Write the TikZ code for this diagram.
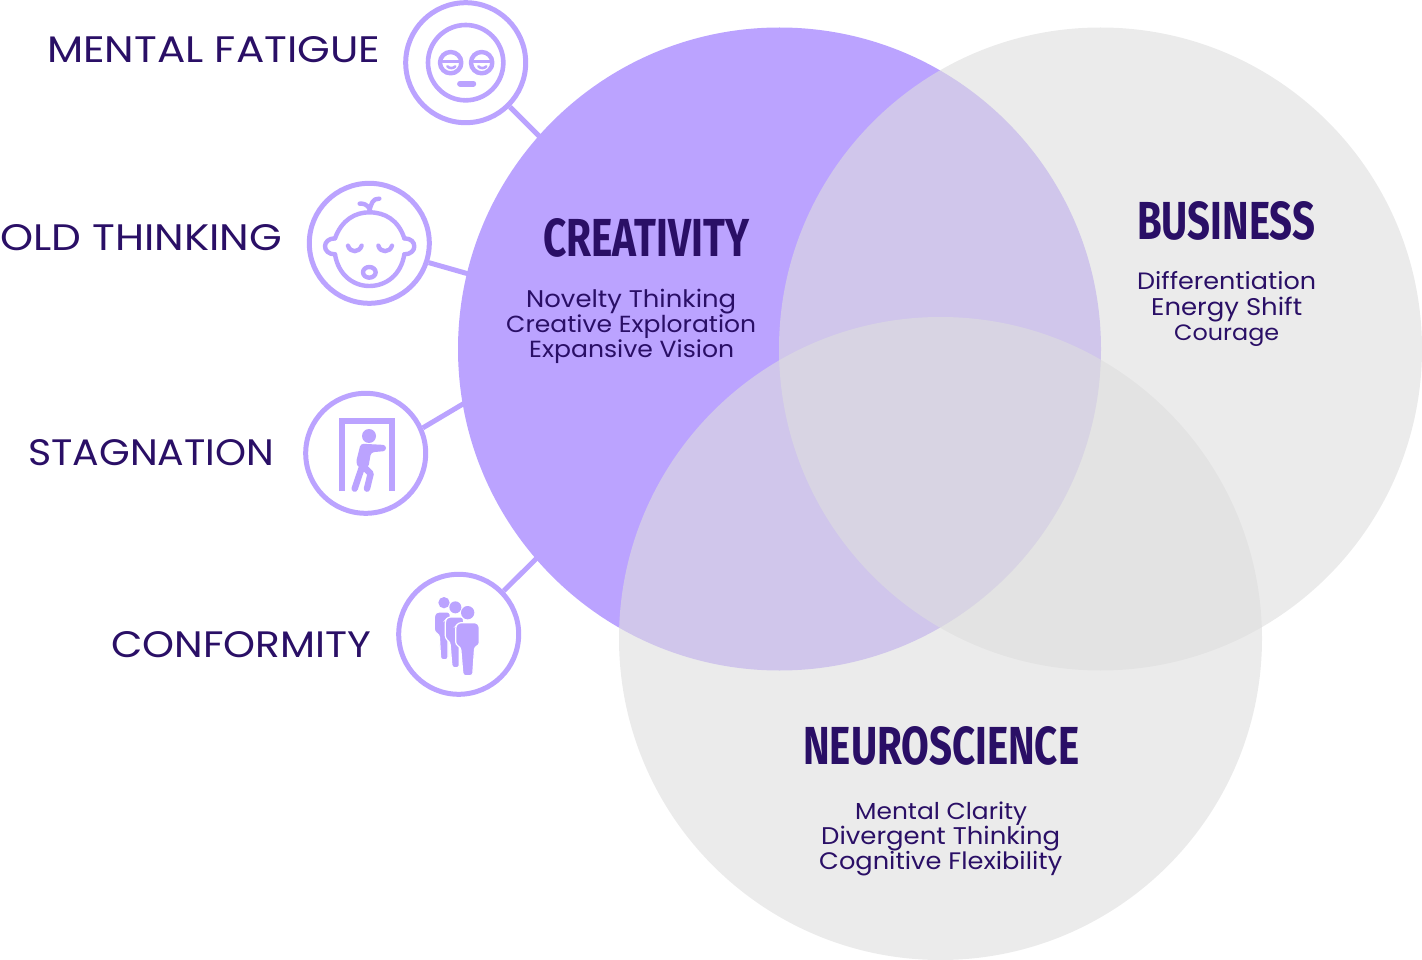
\documentclass[tikz,border=0pt]{standalone}
\usepackage{fontspec}
\setmainfont{Poppins}
\newfontfamily\headfont{Fira Sans}[BoldFont={Fira Sans Bold}]
\definecolor{lav}{HTML}{BBA3FF}
\definecolor{ink}{HTML}{2A0F66}
\definecolor{gr}{HTML}{DEDEDE}
\newcommand{\fitw}[2]{\scalebox{1}[0.93]{\resizebox{#1pt}{!}{#2}}}
\newcommand{\fitwh}[3]{\resizebox{#1pt}{#2pt}{#3}}
\tikzset{
  big/.style={circle,inner sep=0pt,minimum size=643pt,draw=none},
  venngray/.style={big,fill=gr,fill opacity=0.6},
  iconring/.style={circle,draw=lav,line width=5pt,inner sep=0pt,minimum size=120pt,fill=white},
  conn/.style={draw=lav,line width=5pt},
  lbl/.style={text=ink,inner sep=0pt,anchor=base west,font=\fontsize{36}{36}\selectfont},
  bodytxt/.style={text=ink,inner sep=0pt,anchor=base west,font=\fontsize{24}{24}\selectfont},
  head/.style={text=ink,inner sep=0pt,anchor=base west,font=\headfont\bfseries\fontsize{40}{40}\selectfont},
  ico/.style={draw=lav,line width=4.4pt,line cap=round,line join=round,fill=none},
  man/.style={fill=lav,draw=white,line width=1.2pt,rounded corners=2.5pt},
}
\begin{document}
\begin{tikzpicture}[x=1pt,y=-1pt]
\useasboundingbox (0,0) rectangle (1422,960);
% venn
\node[big,fill=lav] (creat) at (779.5,349) {};
\node[venngray] (bus) at (1100.5,349) {};
\node[venngray] (neuro) at (940.5,638.5) {};
% rings
\node[iconring] (i1) at (465.7,62.7) {};
\node[iconring] (i2) at (369.3,243.3) {};
\node[iconring] (i3) at (365.7,453.3) {};
\node[iconring] (i4) at (458.7,634.3) {};
\coordinate (c1) at (544,141);
\coordinate (c2) at (474,275.5);
\coordinate (c3) at (468,401);
\coordinate (c4) at (541,554);
\draw[conn] (i1.-45) -- (c1);
\draw[conn] (i2.-18) -- (c2);
\draw[conn] (i3.24) -- (c3);
\draw[conn] (i4.44) -- (c4);
% icon 1
\begin{scope}[shift={(400,0)},scale=1/3]
  \draw[ico,line width=4.6pt] (197,188) circle (113);
  \draw[ico] (152,188) circle (32);
  \draw[ico] (245,188) circle (32);
  \draw[ico,line width=3.2pt] (128,184) -- (176,184);
  \draw[ico,line width=3.2pt] (221,184) -- (269,184);
  \draw[ico,line width=2.6pt] (142,199) .. controls (148,206) and (160,206) .. (166,199);
  \draw[ico,line width=2.6pt] (235,199) .. controls (241,206) and (253,206) .. (259,199);
  \draw[ico,line width=5.8pt] (180,251) -- (220,251);
\end{scope}
% icon 2
\begin{scope}[shift={(300,175)},scale=1/3]
  \draw[ico] (105,190) .. controls (125,135) and (165,112) .. (208,112) .. controls (255,112) and (295,135) .. (313,190);
  \draw[ico] (105,238) .. controls (115,300) and (160,333) .. (208,333) .. controls (258,333) and (303,300) .. (313,238);
  \draw[ico] (105,190) .. controls (65,190) and (65,238) .. (105,238);
  \draw[ico] (313,190) .. controls (353,190) and (353,238) .. (313,238);
  \draw[ico] (144,212) .. controls (150,234) and (178,234) .. (185,212);
  \draw[ico] (235,212) .. controls (241,234) and (269,234) .. (276,212);
  \draw[ico] (208,292) ellipse (19 and 16);
  \draw[ico] (208,108) .. controls (214,85) and (218,70) .. (238,71);
  \draw[ico] (208,100) .. controls (200,88) and (190,85) .. (179,86);
\end{scope}
% icon 3
\begin{scope}[shift={(295,385)},scale=1/3]
  \draw[draw=lav,line width=6pt,line join=miter] (141,318) -- (141,107) -- (290,107) -- (290,318);
  \fill[lav] (222,153) circle (21);
  \fill[lav,rounded corners=3pt] (197,176) -- (273,180) -- (273,198) -- (228,202) -- (220,248) -- (190,248) -- (183,232) -- cycle;
  \draw[draw=lav,line width=6.4pt,line cap=round,line join=round] (203,240) -- (179,311);
  \draw[draw=lav,line width=6.4pt,line cap=round,line join=round] (203,242) -- (227,266) -- (216,311);
\end{scope}
% icon 4
\begin{scope}[shift={(390,555)},scale=1/3]
  \fill[lav] (162,143) circle (17);
  \draw[man] (140,171) -- (180,171) -- (185,240) -- (174,245) -- (174,314) -- (152,314) -- (148,240) -- (133,230) -- (133,180) -- cycle;
  \fill[lav] (196,157) circle (18);
  \draw[man] (174,186) -- (220,186) -- (225,260) -- (208,262) -- (208,338) -- (186,338) -- (180,262) -- (166,250) -- (166,196) -- cycle;
  \fill[lav] (233,173) circle (20);
  \draw[man] (206,203) -- (260,203) -- (268,212) -- (268,270) -- (254,276) -- (248,362) -- (219,362) -- (212,278) -- (197,268) -- (197,214) -- cycle;
\end{scope}
% side labels
\node[lbl] (l1) at (47,63) {\fitwh{333}{26}{MENTAL FATIGUE}};
\node[lbl] (l2) at (0,251) {\fitwh{282}{26}{OLD THINKING}};
\node[lbl] (l3) at (28,465) {\fitwh{246}{26}{STAGNATION}};
\node[lbl] (l4) at (111,657) {\fitwh{260}{26}{CONFORMITY}};
% headings
\node[head] (h1) at (543,257) {\fitwh{206}{38}{CREATIVITY}};
\node[head] (h2) at (1137,240) {\fitwh{178}{38}{BUSINESS}};
\node[head] (h3) at (803,764) {\fitwh{276}{38}{NEUROSCIENCE}};
% body
\node[bodytxt] (a1) at (526,307) {\fitw{210}{Novelty Thinking}};
\node[bodytxt] (a2) at (506,332) {\fitw{250}{Creative Exploration}};
\node[bodytxt] (a3) at (529,357) {\fitw{205}{Expansive Vision}};
\node[bodytxt] (b1) at (1137,290) {\fitw{179}{Differentiation}};
\node[bodytxt] (b2) at (1151,315) {\fitw{151}{Energy Shift}};
\node[bodytxt] (b3) at (1174,340) {\fitw{105}{Courage}};
\node[bodytxt] (n1) at (855,819) {\fitw{172}{Mental Clarity}};
\node[bodytxt] (n2) at (821,844) {\fitw{239}{Divergent Thinking}};
\node[bodytxt] (n3) at (819,869) {\fitw{243}{Cognitive Flexibility}};
\end{tikzpicture}
\end{document}
